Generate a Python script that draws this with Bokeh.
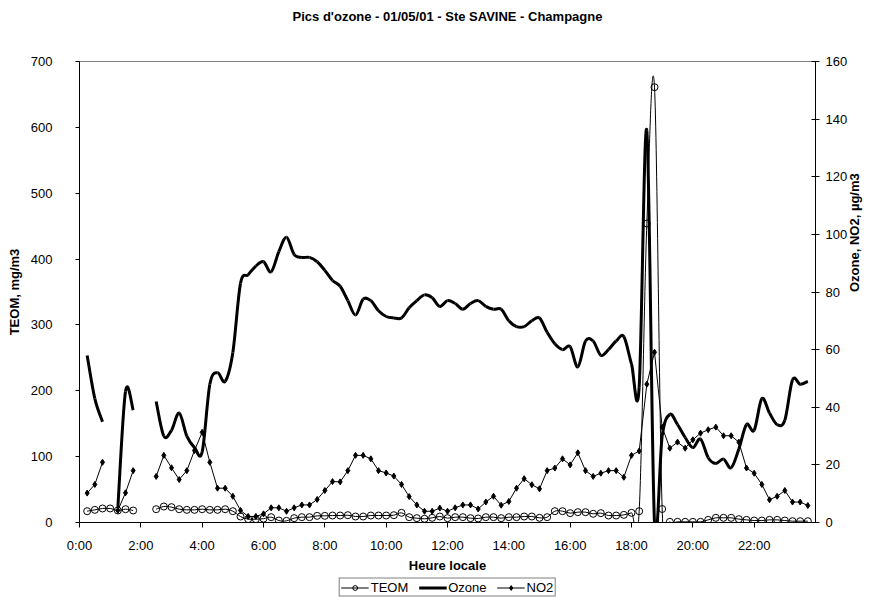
import math
from bokeh.plotting import figure
from bokeh.layouts import column
from bokeh.models import (Range1d, LinearAxis, FixedTicker, Legend, LegendItem,
                          ColumnDataSource, Title)
from bokeh.embed import file_html
from bokeh.resources import INLINE

nan = float("nan")

# time of each measurement, in hours (every 15 minutes, 0:15 .. 23:45)
hours = [i / 4 for i in range(1, 96)]

teom = [17.2, 19.2, 21.3, 21.3, 18.2, 20.2, 18.2, nan, nan, 20.2,
        24.3, 23.3, 20.2, 19.2, 19.2, 20.2, 19.2, 19.2, 20.2, 17.2,
        9.1, 5.1, 5.1, 5.8, 8.1, 3.0, 2.5, 6.6, 8.1, 8.1,
        10.1, 10.1, 10.6, 10.6, 11.1, 9.1, 9.1, 10.6, 10.6, 10.6,
        11.1, 14.7, 8.1, 6.6, 5.6, 7.1, 9.1, 6.6, 8.1, 8.1,
        6.6, 6.1, 8.1, 8.1, 6.6, 8.1, 8.1, 9.1, 9.1, 7.1,
        8.1, 17.2, 17.2, 14.2, 15.7, 15.7, 13.2, 14.2, 10.6, 10.6,
        11.6, 14.7, 17.2, 454, 661, 20.5, 1, 1, 1, 1,
        1, 4, 7.1, 7.1, 7.1, 5.1, 4, 3, 3, 4,
        4, 3, 2, 2, 2]

ozone = [58, 43, 35, nan, 5, 45.5, 39, nan, nan, 42,
         30, 32, 38, 30, 26, 24.5, 48, 52, 49, 59,
         83, 86, 89, 90.5, 87, 94, 99, 93, 92, 92,
         90.5, 87.5, 84, 82, 77, 72, 77.5, 77, 73.5, 71.5,
         71, 71, 74.5, 77, 79, 78, 75, 77, 76, 74,
         76, 77, 75, 74, 74, 70, 68, 68, 70, 71,
         66, 62, 60, 61, 54, 63, 63, 58, 60, 63,
         64.5, 55, 47, 136, 0, 30, 37.5, 34, 29.5, 26,
         29, 22.5, 20.5, 22, 19, 25.5, 34, 32, 43, 38,
         34, 35.5, 49.5, 48, 49]

no2 = [10.2, 13.2, 20.9, nan, 4.2, 10.3, 18, nan, nan, 16,
       23.3, 19, 14.9, 18, 25, 31.3, 20.9, 11.9, 11.9, 9.1,
       4.2, 2.1, 2.1, 3, 5.1, 5.1, 3.9, 5.1, 6.1, 6.1,
       8, 11.1, 14.2, 14.1, 18, 23.3, 23.3, 22.1, 18, 17.2,
       16.1, 13.2, 9, 6.1, 3.9, 3.9, 5, 3.9, 5.1, 6.1,
       6.1, 4.7, 7.1, 9.1, 6, 7.3, 11.9, 15.2, 13.1, 11.7,
       18, 18.9, 22.1, 20, 24.2, 18, 16, 17.1, 18, 18,
       15.7, 23.3, 24.8, 48, 59.1, 33.1, 25.8, 27.9, 25.8, 28.7,
       31, 32.2, 33.1, 30.1, 30.1, 27.9, 18.9, 17.1, 13.2, 7.9,
       9.1, 11.1, 7.1, 7.1, 5.9]

tick_hours = [0, 2, 4, 6, 8, 10, 12, 14, 16, 18, 20, 22]
tick_labels = ["0:00", "2:00", "4:00", "6:00", "8:00", "10:00", "12:00",
               "14:00", "16:00", "18:00", "20:00", "22:00"]
left_ticks = [0, 100, 200, 300, 400, 500, 600, 700]
right_ticks = [0, 20, 40, 60, 80, 100, 120, 140, 160]

TITLE = "Pics d'ozone - 01/05/01 - Ste SAVINE - Champagne"
FONT = "Liberation Sans"


def smooth_source(xs, ys):
    """Bezier segments (Excel-like smoothed line) between valid neighbours."""
    n = len(xs)
    cols = {k: [] for k in ("x0", "y0", "x1", "y1", "cx0", "cy0", "cx1", "cy1")}

    def ok(k):
        return 0 <= k < n and not math.isnan(ys[k])

    for i in range(n - 1):
        if not (ok(i) and ok(i + 1)):
            continue
        a = i - 1 if ok(i - 1) else i
        d = i + 2 if ok(i + 2) else i + 1
        cols["x0"].append(xs[i]); cols["y0"].append(ys[i])
        cols["x1"].append(xs[i + 1]); cols["y1"].append(ys[i + 1])
        cols["cx0"].append(xs[i] + (xs[i + 1] - xs[a]) / 6)
        cols["cy0"].append(ys[i] + (ys[i + 1] - ys[a]) / 6)
        cols["cx1"].append(xs[i + 1] - (xs[d] - xs[i]) / 6)
        cols["cy1"].append(ys[i + 1] - (ys[d] - ys[i]) / 6)
    return ColumnDataSource(cols)


p = figure(width=872, height=576, x_range=Range1d(0, 24), y_range=Range1d(0, 700),
           output_backend="svg", toolbar_location=None, title=None,
           min_border_left=79, min_border_right=52,
           min_border_top=61, min_border_bottom=54)
p.extra_y_ranges = {"r": Range1d(0, 160)}

# spacer (closest to the plot area) and the title above it
p.add_layout(Title(text=" ", text_font_size="2px", standoff=34), "above")
p.add_layout(Title(text=TITLE, align="center", standoff=0, text_font=FONT,
                   text_font_size="13px", text_font_style="bold",
                   text_color="black"), "above")

p.xgrid.visible = False
p.ygrid.visible = False
p.outline_line_color = "#808080"
p.outline_line_width = 1
p.background_fill_color = "white"
p.border_fill_color = "white"

# x axis
xa = p.xaxis[0]
xa.ticker = FixedTicker(ticks=tick_hours)
xa.major_label_overrides = {h: lab for h, lab in zip(tick_hours, tick_labels)}
xa.axis_label = "Heure locale"

# left axis
ya = p.yaxis[0]
ya.ticker = FixedTicker(ticks=left_ticks)
ya.axis_label = "TEOM, mg/m3"

# right axis
ra = LinearAxis(y_range_name="r", ticker=FixedTicker(ticks=right_ticks),
                axis_label="Ozone, NO2, µg/m3")
p.add_layout(ra, "right")

for ax in (xa, ya, ra):
    ax.axis_line_color = "black"
    ax.axis_line_width = 1
    ax.major_tick_line_color = "black"
    ax.minor_tick_line_color = None
    ax.major_label_text_font = FONT
    ax.major_label_text_font_size = "13px"
    ax.major_label_text_color = "black"
    ax.axis_label_text_font = FONT
    ax.axis_label_text_font_size = "13px"
    ax.axis_label_text_font_style = "bold"
    ax.axis_label_text_color = "black"

xa.major_tick_in = 0
xa.major_tick_out = 5
xa.major_label_standoff = 10
xa.axis_label_standoff = 2

ya.major_tick_in = 0
ya.major_tick_out = 4
ya.major_label_standoff = 23
ya.axis_label_standoff = 6

ra.major_tick_in = 4
ra.major_tick_out = 4
ra.major_label_standoff = 6
ra.axis_label_standoff = 4
ra.axis_label_orientation = math.pi / 2

# series
p.bezier(x0="x0", y0="y0", x1="x1", y1="y1", cx0="cx0", cy0="cy0",
         cx1="cx1", cy1="cy1", source=smooth_source(hours, teom),
         line_color="black", line_width=1)
p.scatter(hours, teom, marker="circle", size=7, fill_color=None,
          line_color="black", line_width=1)

p.bezier(x0="x0", y0="y0", x1="x1", y1="y1", cx0="cx0", cy0="cy0",
         cx1="cx1", cy1="cy1", source=smooth_source(hours, ozone),
         line_color="black", line_width=3, y_range_name="r")

p.line(hours, no2, line_color="black", line_width=1, y_range_name="r")
p.scatter(hours, no2, marker="diamond", size=6, fill_color="black",
          line_color="black", y_range_name="r")

# legend strip under the chart (legend samples only; they draw no data)
lg = figure(width=872, height=22, x_range=Range1d(0, 1), y_range=Range1d(0, 1),
            output_backend="svg", toolbar_location=None, title=None,
            x_axis_location=None, y_axis_location=None,
            min_border_left=0, min_border_right=0, min_border_top=0,
            min_border_bottom=0)
lg.outline_line_color = None
lg.xgrid.visible = False
lg.ygrid.visible = False
s_teom_l = lg.line([nan], [nan], line_color="black", line_width=1)
s_teom_m = lg.scatter([nan], [nan], marker="circle", size=7, fill_color=None,
                      line_color="black")
s_oz = lg.line([nan], [nan], line_color="black", line_width=3)
s_no2_l = lg.line([nan], [nan], line_color="black", line_width=1)
s_no2_m = lg.scatter([nan], [nan], marker="diamond", size=6, fill_color="black",
                     line_color="black")

legend = Legend(items=[LegendItem(label="TEOM", renderers=[s_teom_l, s_teom_m]),
                       LegendItem(label="Ozone", renderers=[s_oz]),
                       LegendItem(label="NO2", renderers=[s_no2_l, s_no2_m])],
                orientation="horizontal", location="center",
                label_text_font=FONT, label_text_font_size="13px",
                label_text_color="black", label_text_line_height=1.0,
                label_height=12, glyph_width=28, glyph_height=12,
                label_standoff=2, spacing=10, padding=1, margin=0,
                border_line_color="black", border_line_width=1,
                background_fill_color="white", background_fill_alpha=1)
lg.add_layout(legend)

layout = column(p, lg, spacing=0)
open("out.html", "w").write(file_html(layout, INLINE))
